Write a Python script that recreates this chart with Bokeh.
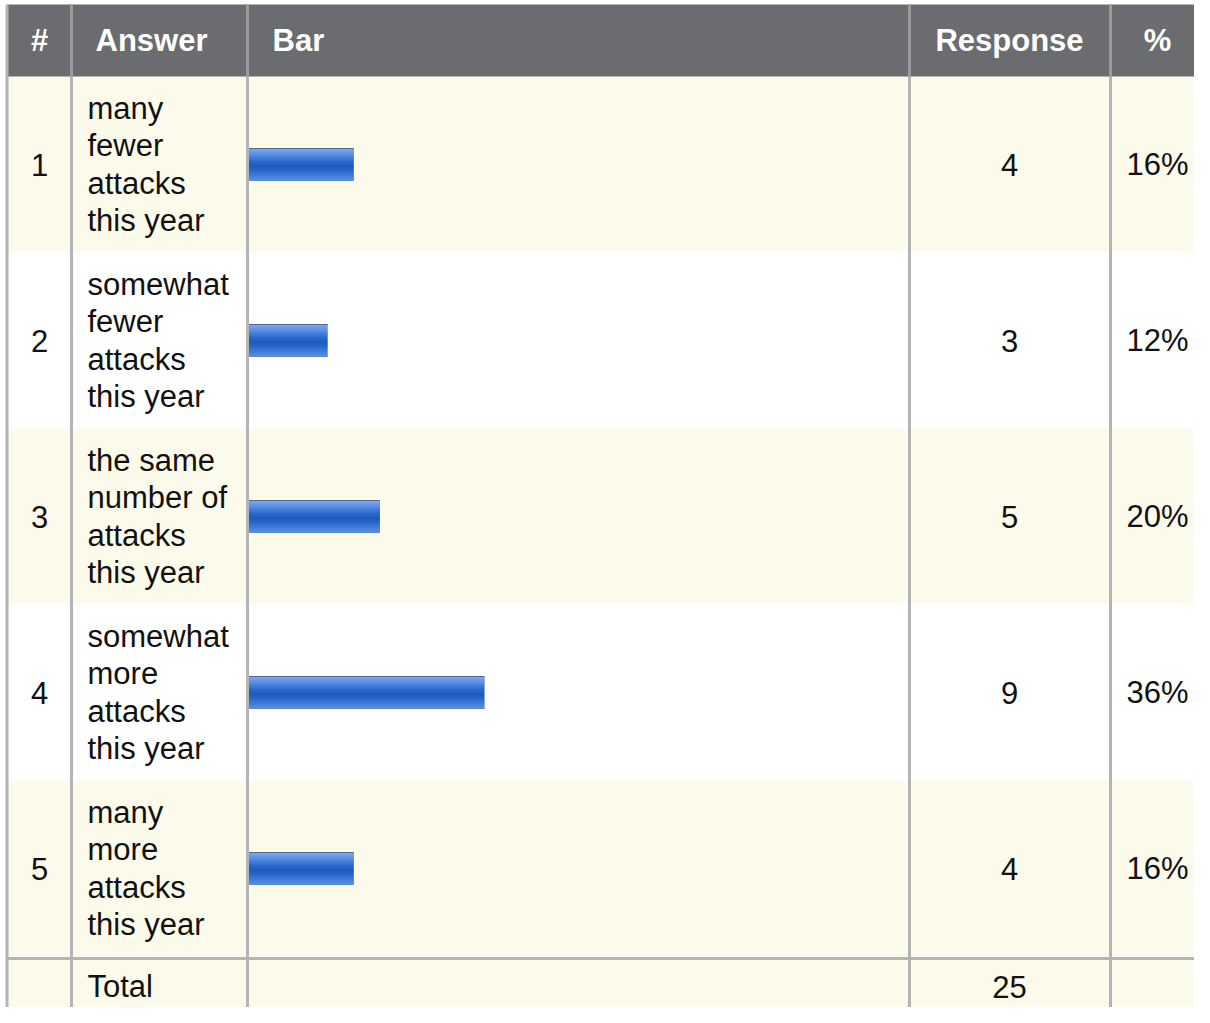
from bokeh.plotting import figure
from bokeh.models import Range1d, ColumnDataSource
from bokeh.core.properties import value
from bokeh.embed import file_html
from bokeh.resources import INLINE

# ---------------- data ----------------
headers = ["#", "Answer", "Bar", "Response", "%"]
numbers = ["1", "2", "3", "4", "5"]
answers = [
    ["many", "fewer", "attacks", "this year"],
    ["somewhat", "fewer", "attacks", "this year"],
    ["the same", "number of", "attacks", "this year"],
    ["somewhat", "more", "attacks", "this year"],
    ["many", "more", "attacks", "this year"],
]
responses = [4, 3, 5, 9, 4]
percents = ["16%", "12%", "20%", "36%", "16%"]
total_label = "Total"
total_value = 25

# ---------------- layout constants ----------------
W, H = 1194, 1007
X0, Y0 = 0, 0
HEAD_TOP, HEAD_BOT = 4, 76
ROW_H = 176
TOTAL_TOP = 958
COL_LINES = [71, 247, 909, 1110]
LEFT_EDGE, RIGHT_EDGE = 6.5, 1204.5
BAR_LEFT = 248.5
PX_PER_UNIT = 26.15
BAR_H = 33
FONT = "Liberation Sans"
FS = "31px"
CREAM = "#fcfaea"
HEAD_BG = "#6b6c70"
GRID = "#b4b4b4"

p = figure(width=W, height=H, x_range=Range1d(X0, X0 + W), y_range=Range1d(Y0 + H, Y0),
           output_backend="svg", toolbar_location=None, min_border=0)
p.axis.visible = False
p.grid.visible = False
p.outline_line_color = None
p.background_fill_color = "white"
p.border_fill_color = "white"
p.extra_x_ranges = {"bar": Range1d(start=-(BAR_LEFT - X0) / PX_PER_UNIT,
                                   end=(X0 + W - BAR_LEFT) / PX_PER_UNIT)}

n = len(numbers)
row_tops = [HEAD_BOT + ROW_H * i for i in range(n)]
row_centers = [t + ROW_H / 2 for t in row_tops]

# row backgrounds
bg_cols = [CREAM if i % 2 == 0 else "white" for i in range(n)]
p.quad(left=[LEFT_EDGE] * n, right=[RIGHT_EDGE] * n, top=row_tops,
       bottom=[t + ROW_H for t in row_tops], fill_color=bg_cols, line_color=None)
p.quad(left=[LEFT_EDGE], right=[RIGHT_EDGE], top=[TOTAL_TOP], bottom=[Y0 + H + 10],
       fill_color=CREAM, line_color=None)
# header
p.quad(left=[LEFT_EDGE], right=[RIGHT_EDGE], top=[HEAD_TOP], bottom=[HEAD_BOT],
       fill_color=HEAD_BG, line_color=None)

# grid lines
for x in COL_LINES:
    p.segment(x0=[x], y0=[HEAD_BOT], x1=[x], y1=[Y0 + H + 10], line_color=GRID, line_width=3)
    p.segment(x0=[x], y0=[HEAD_TOP], x1=[x], y1=[HEAD_BOT], line_color="#9a9a9c", line_width=3)
for x in [LEFT_EDGE, RIGHT_EDGE]:
    p.segment(x0=[x], y0=[HEAD_TOP], x1=[x], y1=[Y0 + H + 10], line_color=GRID, line_width=3)
p.segment(x0=[LEFT_EDGE], y0=[TOTAL_TOP], x1=[RIGHT_EDGE], y1=[TOTAL_TOP],
          line_color=GRID, line_width=3)

# bars with vertical gradient
stops = [(0, (0x55, 0x68, 0x88)), (1, (0x78, 0xa4, 0xf0)), (4, (0x66, 0x98, 0xea)),
         (9, (0x44, 0x7e, 0xda)), (14, (0x26, 0x64, 0xc6)), (18, (0x1c, 0x5a, 0xbe)),
         (22, (0x28, 0x68, 0xc8)), (27, (0x42, 0x7c, 0xd4)), (32, (0x5c, 0x8e, 0xdc))]


def grad(j):
    for (a, ca), (b, cb) in zip(stops[:-1], stops[1:]):
        if a <= j <= b:
            t = 0 if b == a else (j - a) / (b - a)
            c = [round(ca[k] + (cb[k] - ca[k]) * t) for k in range(3)]
            return "#%02x%02x%02x" % tuple(c)
    return "#%02x%02x%02x" % stops[-1][1]


# base bar (solid) under the gradient bands
p.hbar(y=row_centers, left=0, right=responses, height=BAR_H, fill_color="#2a68c8",
       line_color=None, x_range_name="bar")

ys, rights, cols = [], [], []
for i, v in enumerate(responses):
    top = row_centers[i] - BAR_H / 2
    for j in range(BAR_H):
        ys.append(top + j + 0.5)
        rights.append(v)
        cols.append(grad(j))
src = ColumnDataSource(dict(y=ys, right=rights, color=cols))
p.hbar(y="y", left=0, right="right", height=1.0, fill_color="color", line_color=None,
       source=src, x_range_name="bar")

# header texts
hy = (HEAD_TOP + HEAD_BOT) / 2
hx = [39, 95, 272, 1009, 1157]
hal = ["center", "left", "left", "center", "center"]
for t, x, a in zip(headers, hx, hal):
    p.text(x=[x], y=[hy], text=[t], text_font=value(FONT), text_font_size=FS,
           text_font_style="bold", text_color="white", text_align=a, text_baseline="middle")

# body texts
LINE = 37.3
lx, ly, lt = [], [], []
for i, lines in enumerate(answers):
    m = len(lines)
    for k, s in enumerate(lines):
        lx.append(87)
        ly.append(row_centers[i] + (k - (m - 1) / 2) * LINE)
        lt.append(s)
common = dict(text_font=value(FONT), text_font_size=FS, text_color="#111111",
              text_baseline="middle")
p.text(x=lx, y=ly, text=lt, text_align="left", **common)
p.text(x=[39] * n, y=row_centers, text=numbers, text_align="center", **common)
p.text(x=[1009] * n, y=row_centers, text=[str(r) for r in responses], text_align="center", **common)
p.text(x=[1157] * n, y=row_centers, text=percents, text_align="center", **common)
p.text(x=[87], y=[986], text=[total_label], text_align="left", **common)
p.text(x=[1009], y=[986], text=[str(total_value)], text_align="center", **common)

open("out.html", "w").write(file_html(p, INLINE))
